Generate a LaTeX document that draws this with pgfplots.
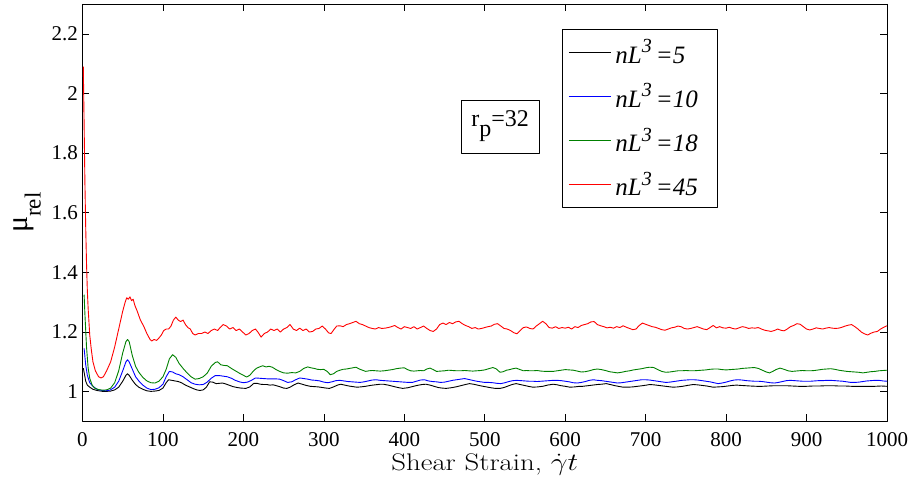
\documentclass[border=0pt]{standalone}
\usepackage{fontspec}
\usepackage{graphicx}
\usepackage{pgfplots}
\pgfplotsset{compat=1.18}
\newfontfamily\tnr{Liberation Serif}
\definecolor{mygreen}{RGB}{0,128,0}
\newcommand{\leg}[1]{nL\raisebox{0.42em}{\fontsize{20}{20}\selectfont 3}\,=#1\rule{10pt}{0pt}}
\begin{document}
\begin{tikzpicture}
\begin{axis}[
  scale only axis,
  width=804.5pt, height=417.5pt,
  xmin=0, xmax=1000, ymin=0.9, ymax=2.3,
  xtick={0,100,...,1000},
  ytick={1,1.2,1.4,1.6,1.8,2,2.2},
  yticklabels={1,1.2,1.4,1.6,1.8,2,2.2},
  tick align=inside,
  major tick length=7pt,
  axis line style={line width=0.8pt},
  every tick/.style={black, line width=0.6pt},
  /pgf/number format/assume math mode=true,
  /pgf/number format/1000 sep={},
  ticklabel style={font=\tnr\fontsize{21}{21}\selectfont, inner sep=0pt},
  yticklabel style={xshift=-4.5pt},
  xticklabel style={yshift=-10.5pt},
  xlabel={\scalebox{1.2}[1]{\fontsize{24}{24}\selectfont Shear Strain, $\dot{\gamma}t$}},
  xlabel style={at={(axis description cs:0.5,0)}, anchor=north, inner sep=0pt, yshift=-32pt},
  ylabel={\tnr\fontsize{30}{30}\selectfont μ\raisebox{-0.42em}{\fontsize{23}{23}\selectfont rel}},
  ylabel style={at={(axis description cs:-0.0684,0.5)}, anchor=center, inner sep=0pt},
  legend cell align=left,
  legend style={at={(axis description cs:0.596,0.940)}, anchor=north west,
    font=\tnr\itshape\fontsize{25}{25}\selectfont,
    line width=0.8pt, inner xsep=6pt, inner ysep=10pt, row sep=19pt,
    nodes={inner xsep=4pt, inner ysep=0pt}},
  line join=round,
]
\addplot[black, line width=0.9pt, legend image code/.code={\draw[black, line width=1pt] (0pt,0pt) -- (42pt,0pt);}] coordinates {
(1,1.079) (2,1.065) (4,1.035) (6,1.022) (9,1.015) (13,1.008) (18,1.004) (25,1.001) (30,1.001) (35,1.002)
(40,1.006) (45,1.015) (50,1.035) (54,1.055) (56,1.06) (58,1.055) (62,1.038) (66,1.024) (70,1.015) (75,1.008)
(80,1.003) (85,1.001) (90,1.002) (95,1.004) (100,1.012) (104,1.03) (107,1.04) (111,1.038) (115,1.036) (119,1.034)
(123,1.03) (128,1.022) (133,1.016) (138,1.01) (142,1.006) (146,1.004) (150,1.006) (154,1.015) (158,1.033) (162,1.032)
(166,1.027) (170,1.028) (174,1.029) (178,1.026) (182,1.022) (187,1.017) (192,1.014) (197,1.012) (203,1.011) (208,1.016)
(213,1.028) (217,1.028) (221,1.025) (225,1.024) (229,1.024) (233,1.022) (237,1.023) (241,1.02) (246,1.016) (250,1.012)
(254,1.011) (258,1.015) (263,1.023) (268,1.029) (273,1.025) (278,1.021) (283,1.018) (288,1.017) (293,1.016) (298,1.014)
(303,1.012) (307,1.011) (312,1.016) (317,1.022) (321,1.025) (326,1.022) (331,1.019) (336,1.017) (341,1.015) (346,1.016)
(352,1.018) (358,1.021) (364,1.023) (370,1.025) (374,1.025) (380,1.022) (386,1.018) (392,1.014) (398,1.011) (404,1.013)
(410,1.017) (416,1.021) (422,1.024) (427,1.025) (432,1.022) (437,1.018) (442,1.014) (447,1.012) (452,1.011) (458,1.013)
(464,1.016) (470,1.02) (476,1.024) (481,1.027) (486,1.025) (491,1.022) (496,1.019) (502,1.016) (508,1.013) (513,1.011)
(519,1.011) (524,1.014) (529,1.019) (534,1.024) (539,1.027) (544,1.024) (549,1.021) (554,1.018) (560,1.015) (566,1.016)
(572,1.018) (578,1.022) (585,1.025) (590,1.023) (595,1.02) (600,1.018) (606,1.015) (612,1.016) (618,1.018) (622,1.018)
(628,1.02) (634,1.022) (640,1.024) (645,1.025) (651,1.027) (656,1.024) (662,1.02) (668,1.017) (672,1.015) (678,1.015)
(684,1.016) (690,1.018) (696,1.02) (701,1.022) (705,1.024) (710,1.023) (716,1.021) (722,1.019) (728,1.017) (734,1.015)
(740,1.016) (746,1.018) (752,1.021) (759,1.024) (764,1.023) (770,1.021) (776,1.019) (784,1.015) (790,1.016) (796,1.017)
(802,1.019) (808,1.021) (813,1.022) (818,1.021) (824,1.02) (830,1.019) (838,1.018) (845,1.018) (852,1.019) (860,1.02)
(868,1.02) (875,1.02) (882,1.019) (890,1.018) (900,1.018) (908,1.019) (916,1.019) (924,1.02) (933,1.02) (940,1.019)
(948,1.019) (956,1.018) (965,1.018) (975,1.018) (985,1.018) (993,1.019) (1000,1.018)
};
\addlegendentry{\leg{5}}
\addplot[blue, line width=0.9pt, legend image code/.code={\draw[blue, line width=1pt] (0pt,0pt) -- (42pt,0pt);}] coordinates {
(2,1.145) (4,1.09) (6,1.055) (9,1.03) (13,1.018) (18,1.008) (24,1.004) (29,1.003) (34,1.005)
(40,1.015) (45,1.035) (50,1.07) (54,1.1) (56,1.107) (58,1.1) (62,1.075) (66,1.05) (70,1.036) (75,1.022)
(80,1.012) (85,1.007) (90,1.008) (95,1.013) (100,1.025) (104,1.05) (108,1.068) (112,1.066) (116,1.06) (120,1.057)
(125,1.05) (130,1.04) (135,1.03) (140,1.025) (145,1.023) (150,1.024) (155,1.032) (160,1.045) (165,1.054) (170,1.054)
(175,1.052) (180,1.05) (185,1.045) (190,1.038) (195,1.033) (200,1.03) (205,1.032) (210,1.038) (215,1.046) (220,1.045)
(225,1.044) (230,1.043) (235,1.043) (240,1.043) (245,1.042) (250,1.037) (255,1.031) (260,1.033) (265,1.04) (270,1.046)
(275,1.044) (280,1.042) (285,1.039) (290,1.038) (295,1.036) (300,1.032) (305,1.03) (310,1.033) (315,1.037) (320,1.038)
(325,1.036) (330,1.034) (335,1.033) (340,1.032) (345,1.031) (350,1.033) (355,1.036) (360,1.039) (365,1.04) (370,1.038)
(375,1.037) (380,1.036) (385,1.035) (390,1.034) (395,1.033) (400,1.032) (405,1.031) (410,1.031) (415,1.035) (420,1.039)
(425,1.04) (430,1.036) (435,1.034) (440,1.033) (445,1.031) (450,1.032) (455,1.035) (460,1.038) (465,1.04) (470,1.042)
(475,1.044) (480,1.041) (485,1.038) (490,1.035) (495,1.033) (500,1.031) (505,1.031) (510,1.03) (515,1.028) (520,1.027)
(525,1.03) (530,1.034) (535,1.037) (540,1.038) (545,1.037) (550,1.036) (555,1.035) (560,1.035) (565,1.034) (570,1.035)
(575,1.036) (580,1.037) (585,1.038) (590,1.038) (595,1.037) (600,1.035) (605,1.033) (610,1.03) (615,1.029) (620,1.031)
(625,1.034) (630,1.038) (635,1.04) (640,1.038) (645,1.037) (650,1.035) (655,1.033) (660,1.031) (665,1.029) (670,1.03)
(675,1.032) (680,1.034) (685,1.036) (690,1.038) (695,1.04) (700,1.04) (705,1.039) (710,1.037) (715,1.035) (720,1.033)
(725,1.031) (730,1.032) (735,1.034) (740,1.036) (745,1.038) (750,1.039) (755,1.04) (760,1.04) (765,1.039) (770,1.037)
(775,1.035) (780,1.033) (785,1.03) (790,1.027) (795,1.029) (800,1.032) (805,1.036) (810,1.039) (815,1.04) (820,1.039)
(825,1.037) (830,1.036) (835,1.035) (840,1.035) (845,1.034) (850,1.032) (855,1.03) (860,1.029) (865,1.031) (870,1.034)
(875,1.037) (880,1.038) (885,1.037) (890,1.036) (895,1.035) (900,1.035) (905,1.035) (910,1.036) (915,1.037) (920,1.037)
(925,1.038) (930,1.038) (935,1.037) (940,1.036) (945,1.035) (950,1.033) (955,1.031) (960,1.031) (965,1.032) (970,1.034)
(975,1.036) (980,1.037) (985,1.038) (990,1.038) (995,1.036) (1000,1.035)
};
\addlegendentry{\leg{10}}
\addplot[mygreen, line width=0.9pt, legend image code/.code={\draw[mygreen, line width=1pt] (0pt,0pt) -- (42pt,0pt);}] coordinates {
(2,1.325) (3,1.26) (5,1.15) (7,1.08) (9,1.045) (12,1.022) (15,1.012) (20,1.007) (25,1.005) (30,1.006)
(35,1.012) (40,1.03) (45,1.07) (50,1.13) (54,1.168) (56,1.175) (58,1.168) (62,1.12) (66,1.085) (70,1.065)
(75,1.048) (80,1.036) (85,1.03) (90,1.029) (95,1.035) (100,1.05) (104,1.075) (108,1.11) (112,1.124) (116,1.115)
(120,1.095) (125,1.078) (130,1.063) (135,1.05) (140,1.042) (145,1.044) (150,1.05) (155,1.062) (160,1.085) (165,1.098)
(168,1.1) (172,1.09) (176,1.088) (180,1.087) (185,1.078) (190,1.07) (195,1.062) (200,1.055) (204,1.049) (208,1.055)
(212,1.068) (216,1.078) (220,1.083) (224,1.087) (228,1.083) (232,1.085) (236,1.082) (240,1.075) (245,1.068) (250,1.063)
(255,1.062) (260,1.064) (265,1.063) (270,1.068) (275,1.078) (280,1.083) (284,1.08) (288,1.078) (292,1.075) (296,1.074)
(300,1.075) (304,1.068) (308,1.057) (312,1.06) (316,1.068) (320,1.072) (324,1.075) (328,1.076) (332,1.078) (336,1.08)
(340,1.082) (344,1.076) (348,1.072) (352,1.068) (356,1.07) (360,1.071) (365,1.07) (370,1.069) (375,1.07) (380,1.072)
(385,1.074) (390,1.077) (395,1.079) (400,1.08) (404,1.074) (408,1.07) (412,1.069) (416,1.07) (420,1.071) (424,1.07)
(428,1.076) (432,1.079) (436,1.074) (440,1.068) (445,1.069) (450,1.07) (455,1.072) (460,1.071) (465,1.07) (470,1.07)
(475,1.071) (480,1.07) (485,1.069) (490,1.07) (495,1.071) (500,1.073) (505,1.077) (510,1.081) (514,1.077) (519,1.065)
(523,1.067) (527,1.072) (531,1.074) (535,1.077) (539,1.079) (544,1.074) (548,1.07) (552,1.071) (556,1.07) (560,1.07)
(565,1.071) (570,1.069) (575,1.068) (580,1.068) (585,1.068) (590,1.07) (595,1.072) (600,1.074) (605,1.073) (610,1.072)
(615,1.069) (620,1.066) (625,1.067) (630,1.07) (635,1.074) (640,1.076) (645,1.074) (650,1.071) (655,1.067) (660,1.065)
(665,1.063) (670,1.065) (675,1.068) (680,1.07) (685,1.073) (690,1.075) (695,1.077) (700,1.08) (705,1.082) (710,1.081)
(715,1.074) (720,1.068) (725,1.065) (730,1.066) (735,1.068) (740,1.07) (745,1.07) (750,1.071) (755,1.07) (760,1.07)
(765,1.071) (770,1.072) (775,1.073) (780,1.075) (785,1.076) (790,1.076) (795,1.074) (800,1.073) (805,1.074) (810,1.075)
(815,1.076) (820,1.078) (825,1.079) (830,1.08) (835,1.081) (840,1.078) (845,1.072) (850,1.066) (854,1.063) (858,1.068)
(862,1.074) (867,1.079) (872,1.075) (877,1.07) (882,1.068) (886,1.069) (890,1.07) (895,1.071) (900,1.07) (905,1.07)
(910,1.071) (915,1.073) (920,1.075) (925,1.076) (930,1.077) (935,1.075) (940,1.072) (945,1.07) (950,1.068) (955,1.067)
(960,1.066) (965,1.065) (970,1.063) (975,1.065) (980,1.067) (985,1.068) (990,1.07) (995,1.071) (1000,1.072)
};
\addlegendentry{\leg{18}}
\addplot[red, line width=0.9pt, legend image code/.code={\draw[red, line width=1pt] (0pt,0pt) -- (42pt,0pt);}] coordinates {
(1,2.09) (2,1.9) (3,1.7) (4,1.55) (5,1.43) (6,1.34) (7,1.28) (9,1.19) (11,1.14) (13,1.1)
(16,1.07) (20,1.05) (23,1.046) (26,1.05) (30,1.07) (35,1.10) (40,1.15) (45,1.21) (50,1.27) (53,1.30)
(55,1.315) (57,1.31) (59,1.318) (61,1.305) (63,1.31) (65,1.29) (68,1.27) (72,1.24) (76,1.22) (80,1.195)
(84,1.175) (86,1.17) (89,1.175) (92,1.172) (95,1.18) (98,1.19) (101,1.205) (104,1.21) (107,1.21) (110,1.22)
(113,1.24) (116,1.25) (119,1.24) (122,1.235) (125,1.24) (128,1.225) (131,1.215) (134,1.21) (137,1.195) (140,1.19)
(144,1.195) (148,1.195) (152,1.20) (156,1.195) (160,1.205) (164,1.21) (168,1.205) (171,1.215) (175,1.225) (179,1.22)
(183,1.21) (187,1.215) (191,1.205) (195,1.21) (199,1.20) (203,1.19) (207,1.195) (211,1.205) (215,1.21) (218,1.20)
(222,1.183) (226,1.195) (230,1.20) (234,1.21) (238,1.205) (242,1.21) (246,1.20) (250,1.21) (254,1.215) (258,1.225)
(262,1.21) (266,1.205) (270,1.213) (274,1.205) (278,1.21) (282,1.20) (286,1.202) (290,1.21) (294,1.212) (298,1.22)
(302,1.21) (306,1.197) (309,1.195) (313,1.21) (316,1.22) (320,1.221) (324,1.218) (328,1.225) (332,1.228) (336,1.232)
(340,1.236) (344,1.228) (348,1.225) (352,1.22) (356,1.215) (360,1.212) (364,1.21) (368,1.215) (372,1.212) (376,1.213)
(380,1.215) (384,1.218) (388,1.222) (392,1.215) (396,1.21) (400,1.218) (404,1.215) (408,1.212) (412,1.218) (416,1.21)
(420,1.215) (424,1.22) (428,1.212) (432,1.205) (436,1.202) (440,1.21) (444,1.225) (448,1.23) (452,1.225) (456,1.232)
(460,1.228) (464,1.234) (468,1.236) (472,1.228) (476,1.222) (480,1.218) (484,1.212) (488,1.215) (492,1.21) (496,1.212)
(500,1.215) (504,1.218) (508,1.22) (512,1.226) (516,1.228) (520,1.22) (524,1.212) (528,1.21) (532,1.205) (536,1.198)
(540,1.194) (544,1.205) (548,1.215) (552,1.217) (556,1.212) (560,1.21) (564,1.22) (568,1.228) (572,1.236) (576,1.228)
(580,1.215) (584,1.213) (588,1.218) (592,1.212) (596,1.215) (600,1.213) (604,1.216) (608,1.21) (612,1.218) (616,1.215)
(620,1.222) (624,1.225) (628,1.228) (632,1.234) (636,1.235) (640,1.225) (644,1.221) (648,1.218) (652,1.214) (656,1.216)
(660,1.213) (664,1.218) (668,1.215) (672,1.221) (676,1.216) (680,1.212) (684,1.208) (688,1.21) (692,1.222) (696,1.23)
(700,1.226) (704,1.222) (708,1.218) (712,1.216) (716,1.212) (720,1.208) (724,1.206) (728,1.21) (732,1.214) (736,1.216)
(740,1.22) (744,1.218) (748,1.212) (752,1.21) (756,1.212) (760,1.215) (764,1.218) (768,1.214) (772,1.21) (776,1.208)
(780,1.215) (784,1.222) (788,1.214) (792,1.218) (796,1.214) (800,1.213) (804,1.216) (808,1.212) (812,1.21) (816,1.214)
(820,1.218) (824,1.216) (828,1.212) (832,1.214) (836,1.213) (840,1.215) (844,1.21) (848,1.206) (852,1.204) (856,1.202)
(860,1.205) (864,1.21) (868,1.206) (872,1.204) (876,1.21) (880,1.218) (884,1.222) (888,1.228) (892,1.226) (896,1.218)
(900,1.21) (904,1.207) (908,1.21) (912,1.214) (916,1.212) (920,1.21) (924,1.213) (928,1.215) (932,1.213) (936,1.212)
(940,1.213) (944,1.216) (948,1.22) (952,1.223) (956,1.225) (960,1.218) (964,1.21) (968,1.2) (972,1.194) (976,1.19)
(980,1.196) (984,1.2) (988,1.202) (992,1.21) (996,1.216) (1000,1.221)
};
\addlegendentry{\leg{45}}
\node[draw=black, line width=0.6pt, minimum width=78pt, minimum height=53pt, inner sep=0pt,
  font=\tnr\fontsize{24}{24}\selectfont] at (axis description cs:0.519,0.7066)
  {r\raisebox{-10pt}{p}=32};
\end{axis}
\pgfresetboundingbox
\path ([shift={(-82.5pt,-61.5pt)}]current axis.south west) rectangle ([shift={(26pt,4pt)}]current axis.north east);
\end{tikzpicture}
\end{document}
